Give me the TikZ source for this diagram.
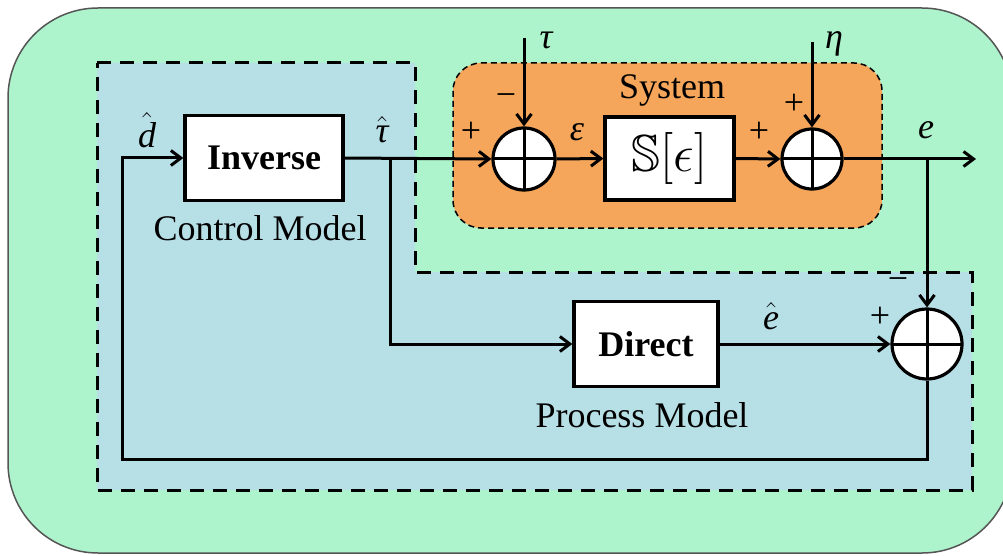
\RequirePackage{fix-cm}
\documentclass[tikz,border=0pt]{standalone}
\usepackage{amssymb}
\usepackage{fontspec}
\setmainfont{Liberation Serif}
\usetikzlibrary{arrows.meta}
\definecolor{bggreen}{HTML}{ADF4CC}
\definecolor{bgblue}{HTML}{B7DFE6}
\definecolor{sysorange}{HTML}{F5A65B}
\definecolor{edgegray}{HTML}{555555}
\newcommand\bigfs{\fontsize{36}{40}\selectfont}
\tikzset{
  conn/.style={line width=3pt,-{Straight Barb[length=10pt,width=15pt,line width=3pt]}},
  blockbox/.style={draw,line width=3.2pt,fill=white,inner sep=0pt,font=\bigfs\bfseries},
  sumnode/.style={circle,draw,line width=3.2pt,fill=white,inner sep=0pt,
    path picture={\draw[line width=3pt] (path picture bounding box.north) -- (path picture bounding box.south)
      (path picture bounding box.west) -- (path picture bounding box.east);}},
  lbl/.style={font=\bigfs,inner sep=0pt},
}
\begin{document}
\begin{tikzpicture}[x=1pt,y=-1pt]
\useasboundingbox (0,0) rectangle (1003,556);
\clip (0,0) rectangle (1003,556);
% backgrounds
\draw[fill=bggreen,draw=edgegray,line width=1.5pt,rounded corners=90pt] (8,8) rectangle (1012,553);
\draw[fill=bgblue,line width=3pt,dash pattern=on 14pt off 9pt] (97,63) -- (415,63) -- (415,272) -- (972,272) -- (972,490) -- (97,490) -- cycle;
\draw[fill=sysorange,line width=1.5pt,dash pattern=on 6pt off 4pt,rounded corners=28pt] (453,63) rectangle (882,228);
% blocks
\node[blockbox,minimum width=158pt,minimum height=85pt] (inv) at (264,158) {Inverse};
\node[blockbox,minimum width=129pt,minimum height=83pt,font=\fontsize{52}{56}\selectfont] (sys) at (669.5,158.5) {$\mathbb{S}[\epsilon]$};
\node[blockbox,minimum width=144pt,minimum height=85pt] (dir) at (646,344) {Direct};
\node[sumnode,minimum size=62pt] (s1) at (524,159) {};
\node[sumnode,minimum size=60pt] (s2) at (812,159) {};
\node[sumnode,minimum size=70pt] (s3) at (927,344) {};
% coordinates
\coordinate (tj) at (390,158);
\coordinate (ej) at (927,159);
\coordinate (out) at (976,159);
\coordinate (tauin) at (524,38);
\coordinate (etain) at (812,42);
\coordinate (fb1) at (927,459);
\coordinate (fb2) at (122,459);
\coordinate (fb3) at (122,158);
% connectors
\draw[conn] (inv.east) -- (s1.west);
\draw[conn] (s1.east) -- (sys.west);
\draw[conn] (sys.east) -- (s2.west);
\draw[conn] (s2.east) -- (out);
\draw[conn] (tauin) -- (s1.north);
\draw[conn] (etain) -- (s2.north);
\draw[conn] (ej) -- (s3.north);
\draw[conn] (tj) |- (dir.west);
\draw[conn] (dir.east) -- (s3.west);
\draw[conn] (s3.south) -- (fb1) -- (fb2) -- (fb3) -- (inv.west);
% labels
\node[lbl] (dhat) at (147,130) {$\hat{\mbox{\itshape d}}$};
\node[lbl] (tauhat) at (382,130) {$\hat{\mbox{\itshape τ}}$};
\node[lbl] (p1) at (471,132) {+};
\node[lbl] (m1) at (506,100) {−};
\node[lbl] (tau) at (546,40) {\itshape τ};
\node[lbl] (eta) at (834,44) {\itshape η};
\node[lbl] (systxt) at (672,90) {System};
\node[lbl] (eps) at (577,132) {\itshape ε};
\node[lbl] (p2) at (759,132) {+};
\node[lbl] (p3) at (794,104) {+};
\node[lbl] (elbl) at (926,130) {\itshape e};
\node[lbl] (ctrl) at (260,228) {Control Model};
\node[lbl] (proc) at (642,415) {Process Model};
\node[lbl] (ehat) at (771,316) {$\hat{\mbox{\itshape e}}$};
\node[lbl] (m3) at (898,284) {−};
\node[lbl] (p4) at (880,317) {+};
\end{tikzpicture}
\end{document}
